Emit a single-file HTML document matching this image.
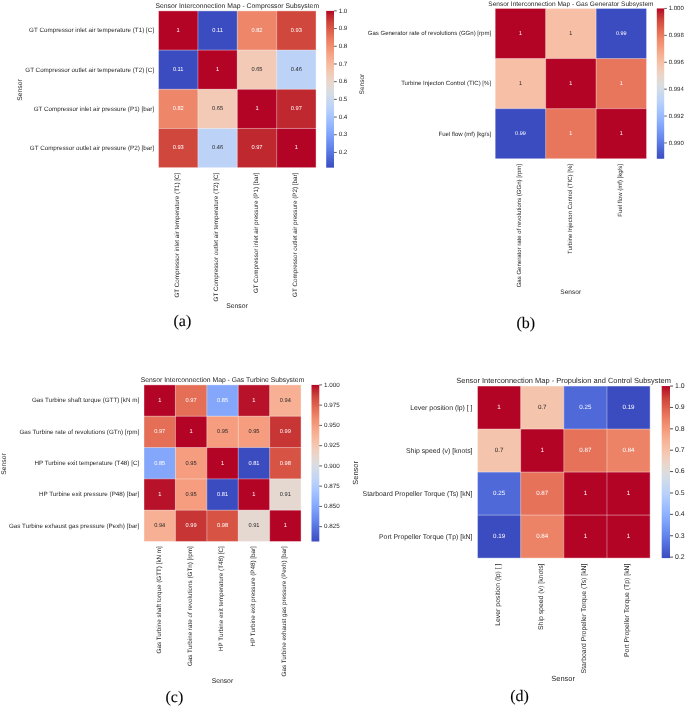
<!DOCTYPE html>
<html><head><meta charset="utf-8"><title>Sensor Interconnection Maps</title>
<style>
html,body{margin:0;padding:0;background:#fff;}
body{width:685px;height:706px;overflow:hidden;font-family:"Liberation Sans",sans-serif;}
svg{display:block;}
text{white-space:pre;text-rendering:geometricPrecision;}
</style></head><body>
<svg width="685" height="706" viewBox="0 0 685 706">
<defs><linearGradient id="ga" x1="0" y1="0" x2="0" y2="1"><stop offset="0.0000" stop-color="#b40426"/><stop offset="0.0250" stop-color="#bd1f2d"/><stop offset="0.0500" stop-color="#c53334"/><stop offset="0.0750" stop-color="#cf453c"/><stop offset="0.1000" stop-color="#d65244"/><stop offset="0.1250" stop-color="#dd5f4b"/><stop offset="0.1500" stop-color="#e36c55"/><stop offset="0.1750" stop-color="#e9785d"/><stop offset="0.2000" stop-color="#ee8468"/><stop offset="0.2250" stop-color="#f18f71"/><stop offset="0.2500" stop-color="#f4987a"/><stop offset="0.2750" stop-color="#f6a385"/><stop offset="0.3000" stop-color="#f7ac8e"/><stop offset="0.3250" stop-color="#f7b599"/><stop offset="0.3500" stop-color="#f6bda2"/><stop offset="0.3750" stop-color="#f5c4ac"/><stop offset="0.4000" stop-color="#f2cbb7"/><stop offset="0.4250" stop-color="#eed0c0"/><stop offset="0.4500" stop-color="#e9d5cb"/><stop offset="0.4750" stop-color="#e3d9d3"/><stop offset="0.5000" stop-color="#dddcdc"/><stop offset="0.5250" stop-color="#d6dce4"/><stop offset="0.5500" stop-color="#cfdaea"/><stop offset="0.5750" stop-color="#c7d7f0"/><stop offset="0.6000" stop-color="#c0d4f5"/><stop offset="0.6250" stop-color="#b9d0f9"/><stop offset="0.6500" stop-color="#afcafc"/><stop offset="0.6750" stop-color="#a7c5fe"/><stop offset="0.7000" stop-color="#9ebeff"/><stop offset="0.7250" stop-color="#96b7ff"/><stop offset="0.7500" stop-color="#8db0fe"/><stop offset="0.7750" stop-color="#84a7fc"/><stop offset="0.8000" stop-color="#7b9ff9"/><stop offset="0.8250" stop-color="#7295f4"/><stop offset="0.8500" stop-color="#6a8bef"/><stop offset="0.8750" stop-color="#6282ea"/><stop offset="0.9000" stop-color="#5977e3"/><stop offset="0.9250" stop-color="#516ddb"/><stop offset="0.9500" stop-color="#4961d2"/><stop offset="0.9750" stop-color="#4257c9"/><stop offset="1.0000" stop-color="#3b4cc0"/></linearGradient><linearGradient id="gb" x1="0" y1="0" x2="0" y2="1"><stop offset="0.0000" stop-color="#b40426"/><stop offset="0.0250" stop-color="#bd1f2d"/><stop offset="0.0500" stop-color="#c53334"/><stop offset="0.0750" stop-color="#cf453c"/><stop offset="0.1000" stop-color="#d65244"/><stop offset="0.1250" stop-color="#dd5f4b"/><stop offset="0.1500" stop-color="#e36c55"/><stop offset="0.1750" stop-color="#e9785d"/><stop offset="0.2000" stop-color="#ee8468"/><stop offset="0.2250" stop-color="#f18f71"/><stop offset="0.2500" stop-color="#f4987a"/><stop offset="0.2750" stop-color="#f6a385"/><stop offset="0.3000" stop-color="#f7ac8e"/><stop offset="0.3250" stop-color="#f7b599"/><stop offset="0.3500" stop-color="#f6bda2"/><stop offset="0.3750" stop-color="#f5c4ac"/><stop offset="0.4000" stop-color="#f2cbb7"/><stop offset="0.4250" stop-color="#eed0c0"/><stop offset="0.4500" stop-color="#e9d5cb"/><stop offset="0.4750" stop-color="#e3d9d3"/><stop offset="0.5000" stop-color="#dddcdc"/><stop offset="0.5250" stop-color="#d6dce4"/><stop offset="0.5500" stop-color="#cfdaea"/><stop offset="0.5750" stop-color="#c7d7f0"/><stop offset="0.6000" stop-color="#c0d4f5"/><stop offset="0.6250" stop-color="#b9d0f9"/><stop offset="0.6500" stop-color="#afcafc"/><stop offset="0.6750" stop-color="#a7c5fe"/><stop offset="0.7000" stop-color="#9ebeff"/><stop offset="0.7250" stop-color="#96b7ff"/><stop offset="0.7500" stop-color="#8db0fe"/><stop offset="0.7750" stop-color="#84a7fc"/><stop offset="0.8000" stop-color="#7b9ff9"/><stop offset="0.8250" stop-color="#7295f4"/><stop offset="0.8500" stop-color="#6a8bef"/><stop offset="0.8750" stop-color="#6282ea"/><stop offset="0.9000" stop-color="#5977e3"/><stop offset="0.9250" stop-color="#516ddb"/><stop offset="0.9500" stop-color="#4961d2"/><stop offset="0.9750" stop-color="#4257c9"/><stop offset="1.0000" stop-color="#3b4cc0"/></linearGradient><linearGradient id="gc" x1="0" y1="0" x2="0" y2="1"><stop offset="0.0000" stop-color="#b40426"/><stop offset="0.0250" stop-color="#bd1f2d"/><stop offset="0.0500" stop-color="#c53334"/><stop offset="0.0750" stop-color="#cf453c"/><stop offset="0.1000" stop-color="#d65244"/><stop offset="0.1250" stop-color="#dd5f4b"/><stop offset="0.1500" stop-color="#e36c55"/><stop offset="0.1750" stop-color="#e9785d"/><stop offset="0.2000" stop-color="#ee8468"/><stop offset="0.2250" stop-color="#f18f71"/><stop offset="0.2500" stop-color="#f4987a"/><stop offset="0.2750" stop-color="#f6a385"/><stop offset="0.3000" stop-color="#f7ac8e"/><stop offset="0.3250" stop-color="#f7b599"/><stop offset="0.3500" stop-color="#f6bda2"/><stop offset="0.3750" stop-color="#f5c4ac"/><stop offset="0.4000" stop-color="#f2cbb7"/><stop offset="0.4250" stop-color="#eed0c0"/><stop offset="0.4500" stop-color="#e9d5cb"/><stop offset="0.4750" stop-color="#e3d9d3"/><stop offset="0.5000" stop-color="#dddcdc"/><stop offset="0.5250" stop-color="#d6dce4"/><stop offset="0.5500" stop-color="#cfdaea"/><stop offset="0.5750" stop-color="#c7d7f0"/><stop offset="0.6000" stop-color="#c0d4f5"/><stop offset="0.6250" stop-color="#b9d0f9"/><stop offset="0.6500" stop-color="#afcafc"/><stop offset="0.6750" stop-color="#a7c5fe"/><stop offset="0.7000" stop-color="#9ebeff"/><stop offset="0.7250" stop-color="#96b7ff"/><stop offset="0.7500" stop-color="#8db0fe"/><stop offset="0.7750" stop-color="#84a7fc"/><stop offset="0.8000" stop-color="#7b9ff9"/><stop offset="0.8250" stop-color="#7295f4"/><stop offset="0.8500" stop-color="#6a8bef"/><stop offset="0.8750" stop-color="#6282ea"/><stop offset="0.9000" stop-color="#5977e3"/><stop offset="0.9250" stop-color="#516ddb"/><stop offset="0.9500" stop-color="#4961d2"/><stop offset="0.9750" stop-color="#4257c9"/><stop offset="1.0000" stop-color="#3b4cc0"/></linearGradient><linearGradient id="gd" x1="0" y1="0" x2="0" y2="1"><stop offset="0.0000" stop-color="#b40426"/><stop offset="0.0250" stop-color="#bd1f2d"/><stop offset="0.0500" stop-color="#c53334"/><stop offset="0.0750" stop-color="#cf453c"/><stop offset="0.1000" stop-color="#d65244"/><stop offset="0.1250" stop-color="#dd5f4b"/><stop offset="0.1500" stop-color="#e36c55"/><stop offset="0.1750" stop-color="#e9785d"/><stop offset="0.2000" stop-color="#ee8468"/><stop offset="0.2250" stop-color="#f18f71"/><stop offset="0.2500" stop-color="#f4987a"/><stop offset="0.2750" stop-color="#f6a385"/><stop offset="0.3000" stop-color="#f7ac8e"/><stop offset="0.3250" stop-color="#f7b599"/><stop offset="0.3500" stop-color="#f6bda2"/><stop offset="0.3750" stop-color="#f5c4ac"/><stop offset="0.4000" stop-color="#f2cbb7"/><stop offset="0.4250" stop-color="#eed0c0"/><stop offset="0.4500" stop-color="#e9d5cb"/><stop offset="0.4750" stop-color="#e3d9d3"/><stop offset="0.5000" stop-color="#dddcdc"/><stop offset="0.5250" stop-color="#d6dce4"/><stop offset="0.5500" stop-color="#cfdaea"/><stop offset="0.5750" stop-color="#c7d7f0"/><stop offset="0.6000" stop-color="#c0d4f5"/><stop offset="0.6250" stop-color="#b9d0f9"/><stop offset="0.6500" stop-color="#afcafc"/><stop offset="0.6750" stop-color="#a7c5fe"/><stop offset="0.7000" stop-color="#9ebeff"/><stop offset="0.7250" stop-color="#96b7ff"/><stop offset="0.7500" stop-color="#8db0fe"/><stop offset="0.7750" stop-color="#84a7fc"/><stop offset="0.8000" stop-color="#7b9ff9"/><stop offset="0.8250" stop-color="#7295f4"/><stop offset="0.8500" stop-color="#6a8bef"/><stop offset="0.8750" stop-color="#6282ea"/><stop offset="0.9000" stop-color="#5977e3"/><stop offset="0.9250" stop-color="#516ddb"/><stop offset="0.9500" stop-color="#4961d2"/><stop offset="0.9750" stop-color="#4257c9"/><stop offset="1.0000" stop-color="#3b4cc0"/></linearGradient><filter id="bl" x="-5%" y="-5%" width="110%" height="110%" color-interpolation-filters="sRGB"><feGaussianBlur stdDeviation="0.35"/></filter></defs>
<rect width="685" height="706" fill="#ffffff"/>
<g filter="url(#bl)">
<rect x="158.50" y="10.90" width="39.69" height="39.49" fill="#b40426"/>
<rect x="197.89" y="10.90" width="39.69" height="39.49" fill="#3b4cc0"/>
<rect x="237.28" y="10.90" width="39.69" height="39.49" fill="#ee8669"/>
<rect x="276.66" y="10.90" width="39.39" height="39.49" fill="#d0473d"/>
<rect x="158.50" y="50.09" width="39.69" height="39.49" fill="#3b4cc0"/>
<rect x="197.89" y="50.09" width="39.69" height="39.49" fill="#b40426"/>
<rect x="237.28" y="50.09" width="39.69" height="39.49" fill="#f2cab5"/>
<rect x="276.66" y="50.09" width="39.39" height="39.49" fill="#bcd2f7"/>
<rect x="158.50" y="89.28" width="39.69" height="39.49" fill="#ee8669"/>
<rect x="197.89" y="89.28" width="39.69" height="39.49" fill="#f2cab5"/>
<rect x="237.28" y="89.28" width="39.69" height="39.49" fill="#b40426"/>
<rect x="276.66" y="89.28" width="39.39" height="39.49" fill="#c0282f"/>
<rect x="158.50" y="128.46" width="39.69" height="39.19" fill="#d0473d"/>
<rect x="197.89" y="128.46" width="39.69" height="39.19" fill="#bcd2f7"/>
<rect x="237.28" y="128.46" width="39.69" height="39.19" fill="#c0282f"/>
<rect x="276.66" y="128.46" width="39.39" height="39.19" fill="#b40426"/>
<line x1="158.50" y1="10.90" x2="158.50" y2="167.65" stroke="#fff" stroke-width="0.5" stroke-opacity="0.75"/>
<line x1="158.50" y1="10.90" x2="316.05" y2="10.90" stroke="#fff" stroke-width="0.5" stroke-opacity="0.75"/>
<line x1="197.89" y1="10.90" x2="197.89" y2="167.65" stroke="#fff" stroke-width="0.5" stroke-opacity="0.75"/>
<line x1="158.50" y1="50.09" x2="316.05" y2="50.09" stroke="#fff" stroke-width="0.5" stroke-opacity="0.75"/>
<line x1="237.28" y1="10.90" x2="237.28" y2="167.65" stroke="#fff" stroke-width="0.5" stroke-opacity="0.75"/>
<line x1="158.50" y1="89.28" x2="316.05" y2="89.28" stroke="#fff" stroke-width="0.5" stroke-opacity="0.75"/>
<line x1="276.66" y1="10.90" x2="276.66" y2="167.65" stroke="#fff" stroke-width="0.5" stroke-opacity="0.75"/>
<line x1="158.50" y1="128.46" x2="316.05" y2="128.46" stroke="#fff" stroke-width="0.5" stroke-opacity="0.75"/>
<line x1="316.05" y1="10.90" x2="316.05" y2="167.65" stroke="#fff" stroke-width="0.5" stroke-opacity="0.75"/>
<line x1="158.50" y1="167.65" x2="316.05" y2="167.65" stroke="#fff" stroke-width="0.5" stroke-opacity="0.75"/>
<text x="178.19" y="31.86" font-size="5.67" text-anchor="middle" fill="#ffffff" font-family="Liberation Sans">1</text>
<text x="217.58" y="31.86" font-size="5.67" text-anchor="middle" fill="#ffffff" font-family="Liberation Sans">0.11</text>
<text x="256.97" y="31.86" font-size="5.67" text-anchor="middle" fill="#ffffff" font-family="Liberation Sans">0.82</text>
<text x="296.36" y="31.86" font-size="5.67" text-anchor="middle" fill="#ffffff" font-family="Liberation Sans">0.93</text>
<text x="178.19" y="71.04" font-size="5.67" text-anchor="middle" fill="#ffffff" font-family="Liberation Sans">0.11</text>
<text x="217.58" y="71.04" font-size="5.67" text-anchor="middle" fill="#ffffff" font-family="Liberation Sans">1</text>
<text x="256.97" y="71.04" font-size="5.67" text-anchor="middle" fill="#262626" font-family="Liberation Sans">0.65</text>
<text x="296.36" y="71.04" font-size="5.67" text-anchor="middle" fill="#262626" font-family="Liberation Sans">0.46</text>
<text x="178.19" y="110.23" font-size="5.67" text-anchor="middle" fill="#ffffff" font-family="Liberation Sans">0.82</text>
<text x="217.58" y="110.23" font-size="5.67" text-anchor="middle" fill="#262626" font-family="Liberation Sans">0.65</text>
<text x="256.97" y="110.23" font-size="5.67" text-anchor="middle" fill="#ffffff" font-family="Liberation Sans">1</text>
<text x="296.36" y="110.23" font-size="5.67" text-anchor="middle" fill="#ffffff" font-family="Liberation Sans">0.97</text>
<text x="178.19" y="149.42" font-size="5.67" text-anchor="middle" fill="#ffffff" font-family="Liberation Sans">0.93</text>
<text x="217.58" y="149.42" font-size="5.67" text-anchor="middle" fill="#262626" font-family="Liberation Sans">0.46</text>
<text x="256.97" y="149.42" font-size="5.67" text-anchor="middle" fill="#ffffff" font-family="Liberation Sans">0.97</text>
<text x="296.36" y="149.42" font-size="5.67" text-anchor="middle" fill="#ffffff" font-family="Liberation Sans">1</text>
<text x="154.00" y="32.38" font-size="6.28" text-anchor="end" fill="#262626" font-family="Liberation Sans">GT Compressor inlet air temperature (T1) [C]</text>
<text x="154.00" y="71.56" font-size="6.28" text-anchor="end" fill="#262626" font-family="Liberation Sans">GT Compressor outlet air temperature (T2) [C]</text>
<text x="154.00" y="110.75" font-size="6.28" text-anchor="end" fill="#262626" font-family="Liberation Sans">GT Compressor inlet air pressure (P1) [bar]</text>
<text x="154.00" y="149.94" font-size="6.28" text-anchor="end" fill="#262626" font-family="Liberation Sans">GT Compressor outlet air pressure (P2) [bar]</text>
<text x="0" y="0" transform="translate(179.04,172.70) rotate(-90)" font-size="6.28" text-anchor="end" fill="#262626" font-family="Liberation Sans">GT Compressor inlet air temperature (T1) [C]</text>
<text x="0" y="0" transform="translate(218.43,172.70) rotate(-90)" font-size="6.28" text-anchor="end" fill="#262626" font-family="Liberation Sans">GT Compressor outlet air temperature (T2) [C]</text>
<text x="0" y="0" transform="translate(257.82,172.70) rotate(-90)" font-size="6.28" text-anchor="end" fill="#262626" font-family="Liberation Sans">GT Compressor inlet air pressure (P1) [bar]</text>
<text x="0" y="0" transform="translate(297.21,172.70) rotate(-90)" font-size="6.28" text-anchor="end" fill="#262626" font-family="Liberation Sans">GT Compressor outlet air pressure (P2) [bar]</text>
<text x="237.28" y="7.80" font-size="6.81" text-anchor="middle" fill="#262626" font-family="Liberation Sans">Sensor Interconnection Map - Compressor Subsystem</text>
<text x="0" y="0" transform="translate(21.80,90.00) rotate(-90)" font-size="6.81" text-anchor="middle" fill="#262626" font-family="Liberation Sans">Sensor</text>
<text x="237.00" y="308.10" font-size="6.81" text-anchor="middle" fill="#262626" font-family="Liberation Sans">Sensor</text>
<rect x="326.20" y="10.90" width="7.80" height="156.75" fill="url(#ga)"/>
<line x1="334.00" y1="152.43" x2="336.78" y2="152.43" stroke="#262626" stroke-width="0.74"/>
<text x="338.65" y="154.13" font-size="6.28" text-anchor="start" fill="#262626" font-family="Liberation Sans">0.2</text>
<line x1="334.00" y1="134.74" x2="336.78" y2="134.74" stroke="#262626" stroke-width="0.74"/>
<text x="338.65" y="136.44" font-size="6.28" text-anchor="start" fill="#262626" font-family="Liberation Sans">0.3</text>
<line x1="334.00" y1="117.05" x2="336.78" y2="117.05" stroke="#262626" stroke-width="0.74"/>
<text x="338.65" y="118.75" font-size="6.28" text-anchor="start" fill="#262626" font-family="Liberation Sans">0.4</text>
<line x1="334.00" y1="99.36" x2="336.78" y2="99.36" stroke="#262626" stroke-width="0.74"/>
<text x="338.65" y="101.05" font-size="6.28" text-anchor="start" fill="#262626" font-family="Liberation Sans">0.5</text>
<line x1="334.00" y1="81.67" x2="336.78" y2="81.67" stroke="#262626" stroke-width="0.74"/>
<text x="338.65" y="83.36" font-size="6.28" text-anchor="start" fill="#262626" font-family="Liberation Sans">0.6</text>
<line x1="334.00" y1="63.98" x2="336.78" y2="63.98" stroke="#262626" stroke-width="0.74"/>
<text x="338.65" y="65.67" font-size="6.28" text-anchor="start" fill="#262626" font-family="Liberation Sans">0.7</text>
<line x1="334.00" y1="46.28" x2="336.78" y2="46.28" stroke="#262626" stroke-width="0.74"/>
<text x="338.65" y="47.98" font-size="6.28" text-anchor="start" fill="#262626" font-family="Liberation Sans">0.8</text>
<line x1="334.00" y1="28.59" x2="336.78" y2="28.59" stroke="#262626" stroke-width="0.74"/>
<text x="338.65" y="30.29" font-size="6.28" text-anchor="start" fill="#262626" font-family="Liberation Sans">0.9</text>
<line x1="334.00" y1="10.90" x2="336.78" y2="10.90" stroke="#262626" stroke-width="0.74"/>
<text x="338.65" y="12.59" font-size="6.28" text-anchor="start" fill="#262626" font-family="Liberation Sans">1.0</text>
<text x="173.50" y="326.40" font-size="16.00" text-anchor="start" fill="#000" font-family="Liberation Serif" stroke="#000" stroke-width="0.1">(a)</text>
<rect x="495.20" y="8.45" width="50.75" height="50.40" fill="#b40426"/>
<rect x="545.65" y="8.45" width="50.75" height="50.40" fill="#f6bfa6"/>
<rect x="596.10" y="8.45" width="50.45" height="50.40" fill="#3b4cc0"/>
<rect x="495.20" y="58.55" width="50.75" height="50.40" fill="#f6bfa6"/>
<rect x="545.65" y="58.55" width="50.75" height="50.40" fill="#b40426"/>
<rect x="596.10" y="58.55" width="50.45" height="50.40" fill="#e8765c"/>
<rect x="495.20" y="108.65" width="50.75" height="50.10" fill="#3b4cc0"/>
<rect x="545.65" y="108.65" width="50.75" height="50.10" fill="#e8765c"/>
<rect x="596.10" y="108.65" width="50.45" height="50.10" fill="#b40426"/>
<line x1="495.20" y1="8.45" x2="495.20" y2="158.75" stroke="#fff" stroke-width="0.5" stroke-opacity="0.75"/>
<line x1="495.20" y1="8.45" x2="646.55" y2="8.45" stroke="#fff" stroke-width="0.5" stroke-opacity="0.75"/>
<line x1="545.65" y1="8.45" x2="545.65" y2="158.75" stroke="#fff" stroke-width="0.5" stroke-opacity="0.75"/>
<line x1="495.20" y1="58.55" x2="646.55" y2="58.55" stroke="#fff" stroke-width="0.5" stroke-opacity="0.75"/>
<line x1="596.10" y1="8.45" x2="596.10" y2="158.75" stroke="#fff" stroke-width="0.5" stroke-opacity="0.75"/>
<line x1="495.20" y1="108.65" x2="646.55" y2="108.65" stroke="#fff" stroke-width="0.5" stroke-opacity="0.75"/>
<line x1="646.55" y1="8.45" x2="646.55" y2="158.75" stroke="#fff" stroke-width="0.5" stroke-opacity="0.75"/>
<line x1="495.20" y1="158.75" x2="646.55" y2="158.75" stroke="#fff" stroke-width="0.5" stroke-opacity="0.75"/>
<text x="520.42" y="34.81" font-size="5.46" text-anchor="middle" fill="#ffffff" font-family="Liberation Sans">1</text>
<text x="570.88" y="34.81" font-size="5.46" text-anchor="middle" fill="#262626" font-family="Liberation Sans">1</text>
<text x="621.32" y="34.81" font-size="5.46" text-anchor="middle" fill="#ffffff" font-family="Liberation Sans">0.99</text>
<text x="520.42" y="84.91" font-size="5.46" text-anchor="middle" fill="#262626" font-family="Liberation Sans">1</text>
<text x="570.88" y="84.91" font-size="5.46" text-anchor="middle" fill="#ffffff" font-family="Liberation Sans">1</text>
<text x="621.32" y="84.91" font-size="5.46" text-anchor="middle" fill="#ffffff" font-family="Liberation Sans">1</text>
<text x="520.42" y="135.01" font-size="5.46" text-anchor="middle" fill="#ffffff" font-family="Liberation Sans">0.99</text>
<text x="570.88" y="135.01" font-size="5.46" text-anchor="middle" fill="#ffffff" font-family="Liberation Sans">1</text>
<text x="621.32" y="135.01" font-size="5.46" text-anchor="middle" fill="#ffffff" font-family="Liberation Sans">1</text>
<text x="491.10" y="35.31" font-size="6.04" text-anchor="end" fill="#262626" font-family="Liberation Sans">Gas Generator rate of revolutions (GGn) [rpm]</text>
<text x="491.10" y="85.41" font-size="6.04" text-anchor="end" fill="#262626" font-family="Liberation Sans">Turbine Injecton Control (TIC) [%]</text>
<text x="491.10" y="135.51" font-size="6.04" text-anchor="end" fill="#262626" font-family="Liberation Sans">Fuel flow (mf) [kg/s]</text>
<text x="0" y="0" transform="translate(521.27,164.00) rotate(-90)" font-size="6.04" text-anchor="end" fill="#262626" font-family="Liberation Sans">Gas Generator rate of revolutions (GGn) [rpm]</text>
<text x="0" y="0" transform="translate(571.73,164.00) rotate(-90)" font-size="6.04" text-anchor="end" fill="#262626" font-family="Liberation Sans">Turbine Injecton Control (TIC) [%]</text>
<text x="0" y="0" transform="translate(622.17,164.00) rotate(-90)" font-size="6.04" text-anchor="end" fill="#262626" font-family="Liberation Sans">Fuel flow (mf) [kg/s]</text>
<text x="570.88" y="5.50" font-size="6.55" text-anchor="middle" fill="#262626" font-family="Liberation Sans">Sensor Interconnection Map - Gas Generator Subsystem</text>
<text x="0" y="0" transform="translate(364.40,84.10) rotate(-90)" font-size="6.55" text-anchor="middle" fill="#262626" font-family="Liberation Sans">Sensor</text>
<text x="570.70" y="293.60" font-size="6.55" text-anchor="middle" fill="#262626" font-family="Liberation Sans">Sensor</text>
<rect x="656.80" y="8.45" width="7.40" height="150.30" fill="url(#gb)"/>
<line x1="664.20" y1="142.95" x2="666.88" y2="142.95" stroke="#262626" stroke-width="0.71"/>
<text x="668.68" y="144.58" font-size="6.04" text-anchor="start" fill="#262626" font-family="Liberation Sans">0.990</text>
<line x1="664.20" y1="116.05" x2="666.88" y2="116.05" stroke="#262626" stroke-width="0.71"/>
<text x="668.68" y="117.68" font-size="6.04" text-anchor="start" fill="#262626" font-family="Liberation Sans">0.992</text>
<line x1="664.20" y1="89.15" x2="666.88" y2="89.15" stroke="#262626" stroke-width="0.71"/>
<text x="668.68" y="90.78" font-size="6.04" text-anchor="start" fill="#262626" font-family="Liberation Sans">0.994</text>
<line x1="664.20" y1="62.25" x2="666.88" y2="62.25" stroke="#262626" stroke-width="0.71"/>
<text x="668.68" y="63.88" font-size="6.04" text-anchor="start" fill="#262626" font-family="Liberation Sans">0.996</text>
<line x1="664.20" y1="35.35" x2="666.88" y2="35.35" stroke="#262626" stroke-width="0.71"/>
<text x="668.68" y="36.98" font-size="6.04" text-anchor="start" fill="#262626" font-family="Liberation Sans">0.998</text>
<line x1="664.20" y1="8.45" x2="666.88" y2="8.45" stroke="#262626" stroke-width="0.71"/>
<text x="668.68" y="10.08" font-size="6.04" text-anchor="start" fill="#262626" font-family="Liberation Sans">1.000</text>
<text x="516.40" y="327.50" font-size="16.00" text-anchor="start" fill="#000" font-family="Liberation Serif" stroke="#000" stroke-width="0.1">(b)</text>
<rect x="144.00" y="384.90" width="31.71" height="31.62" fill="#b40426"/>
<rect x="175.41" y="384.90" width="31.71" height="31.62" fill="#e46e56"/>
<rect x="206.82" y="384.90" width="31.71" height="31.62" fill="#84a7fc"/>
<rect x="238.23" y="384.90" width="31.71" height="31.62" fill="#b8122a"/>
<rect x="269.64" y="384.90" width="31.41" height="31.62" fill="#f7b093"/>
<rect x="144.00" y="416.22" width="31.71" height="31.62" fill="#e46e56"/>
<rect x="175.41" y="416.22" width="31.71" height="31.62" fill="#b40426"/>
<rect x="206.82" y="416.22" width="31.71" height="31.62" fill="#f59d7e"/>
<rect x="238.23" y="416.22" width="31.71" height="31.62" fill="#f59d7e"/>
<rect x="269.64" y="416.22" width="31.41" height="31.62" fill="#c73635"/>
<rect x="144.00" y="447.54" width="31.71" height="31.62" fill="#84a7fc"/>
<rect x="175.41" y="447.54" width="31.71" height="31.62" fill="#f59d7e"/>
<rect x="206.82" y="447.54" width="31.71" height="31.62" fill="#b40426"/>
<rect x="238.23" y="447.54" width="31.71" height="31.62" fill="#3b4cc0"/>
<rect x="269.64" y="447.54" width="31.41" height="31.62" fill="#d75445"/>
<rect x="144.00" y="478.86" width="31.71" height="31.62" fill="#b8122a"/>
<rect x="175.41" y="478.86" width="31.71" height="31.62" fill="#f59d7e"/>
<rect x="206.82" y="478.86" width="31.71" height="31.62" fill="#3b4cc0"/>
<rect x="238.23" y="478.86" width="31.71" height="31.62" fill="#b40426"/>
<rect x="269.64" y="478.86" width="31.41" height="31.62" fill="#e5d8d1"/>
<rect x="144.00" y="510.18" width="31.71" height="31.32" fill="#f7b093"/>
<rect x="175.41" y="510.18" width="31.71" height="31.32" fill="#c73635"/>
<rect x="206.82" y="510.18" width="31.71" height="31.32" fill="#d75445"/>
<rect x="238.23" y="510.18" width="31.71" height="31.32" fill="#e5d8d1"/>
<rect x="269.64" y="510.18" width="31.41" height="31.32" fill="#b40426"/>
<line x1="144.00" y1="384.90" x2="144.00" y2="541.50" stroke="#fff" stroke-width="0.5" stroke-opacity="0.75"/>
<line x1="144.00" y1="384.90" x2="301.05" y2="384.90" stroke="#fff" stroke-width="0.5" stroke-opacity="0.75"/>
<line x1="175.41" y1="384.90" x2="175.41" y2="541.50" stroke="#fff" stroke-width="0.5" stroke-opacity="0.75"/>
<line x1="144.00" y1="416.22" x2="301.05" y2="416.22" stroke="#fff" stroke-width="0.5" stroke-opacity="0.75"/>
<line x1="206.82" y1="384.90" x2="206.82" y2="541.50" stroke="#fff" stroke-width="0.5" stroke-opacity="0.75"/>
<line x1="144.00" y1="447.54" x2="301.05" y2="447.54" stroke="#fff" stroke-width="0.5" stroke-opacity="0.75"/>
<line x1="238.23" y1="384.90" x2="238.23" y2="541.50" stroke="#fff" stroke-width="0.5" stroke-opacity="0.75"/>
<line x1="144.00" y1="478.86" x2="301.05" y2="478.86" stroke="#fff" stroke-width="0.5" stroke-opacity="0.75"/>
<line x1="269.64" y1="384.90" x2="269.64" y2="541.50" stroke="#fff" stroke-width="0.5" stroke-opacity="0.75"/>
<line x1="144.00" y1="510.18" x2="301.05" y2="510.18" stroke="#fff" stroke-width="0.5" stroke-opacity="0.75"/>
<line x1="301.05" y1="384.90" x2="301.05" y2="541.50" stroke="#fff" stroke-width="0.5" stroke-opacity="0.75"/>
<line x1="144.00" y1="541.50" x2="301.05" y2="541.50" stroke="#fff" stroke-width="0.5" stroke-opacity="0.75"/>
<text x="159.71" y="401.92" font-size="5.67" text-anchor="middle" fill="#ffffff" font-family="Liberation Sans">1</text>
<text x="191.12" y="401.92" font-size="5.67" text-anchor="middle" fill="#ffffff" font-family="Liberation Sans">0.97</text>
<text x="222.53" y="401.92" font-size="5.67" text-anchor="middle" fill="#ffffff" font-family="Liberation Sans">0.85</text>
<text x="253.94" y="401.92" font-size="5.67" text-anchor="middle" fill="#ffffff" font-family="Liberation Sans">1</text>
<text x="285.35" y="401.92" font-size="5.67" text-anchor="middle" fill="#262626" font-family="Liberation Sans">0.94</text>
<text x="159.71" y="433.24" font-size="5.67" text-anchor="middle" fill="#ffffff" font-family="Liberation Sans">0.97</text>
<text x="191.12" y="433.24" font-size="5.67" text-anchor="middle" fill="#ffffff" font-family="Liberation Sans">1</text>
<text x="222.53" y="433.24" font-size="5.67" text-anchor="middle" fill="#262626" font-family="Liberation Sans">0.95</text>
<text x="253.94" y="433.24" font-size="5.67" text-anchor="middle" fill="#262626" font-family="Liberation Sans">0.95</text>
<text x="285.35" y="433.24" font-size="5.67" text-anchor="middle" fill="#ffffff" font-family="Liberation Sans">0.99</text>
<text x="159.71" y="464.56" font-size="5.67" text-anchor="middle" fill="#ffffff" font-family="Liberation Sans">0.85</text>
<text x="191.12" y="464.56" font-size="5.67" text-anchor="middle" fill="#262626" font-family="Liberation Sans">0.95</text>
<text x="222.53" y="464.56" font-size="5.67" text-anchor="middle" fill="#ffffff" font-family="Liberation Sans">1</text>
<text x="253.94" y="464.56" font-size="5.67" text-anchor="middle" fill="#ffffff" font-family="Liberation Sans">0.81</text>
<text x="285.35" y="464.56" font-size="5.67" text-anchor="middle" fill="#ffffff" font-family="Liberation Sans">0.98</text>
<text x="159.71" y="495.88" font-size="5.67" text-anchor="middle" fill="#ffffff" font-family="Liberation Sans">1</text>
<text x="191.12" y="495.88" font-size="5.67" text-anchor="middle" fill="#262626" font-family="Liberation Sans">0.95</text>
<text x="222.53" y="495.88" font-size="5.67" text-anchor="middle" fill="#ffffff" font-family="Liberation Sans">0.81</text>
<text x="253.94" y="495.88" font-size="5.67" text-anchor="middle" fill="#ffffff" font-family="Liberation Sans">1</text>
<text x="285.35" y="495.88" font-size="5.67" text-anchor="middle" fill="#262626" font-family="Liberation Sans">0.91</text>
<text x="159.71" y="527.20" font-size="5.67" text-anchor="middle" fill="#262626" font-family="Liberation Sans">0.94</text>
<text x="191.12" y="527.20" font-size="5.67" text-anchor="middle" fill="#ffffff" font-family="Liberation Sans">0.99</text>
<text x="222.53" y="527.20" font-size="5.67" text-anchor="middle" fill="#ffffff" font-family="Liberation Sans">0.98</text>
<text x="253.94" y="527.20" font-size="5.67" text-anchor="middle" fill="#262626" font-family="Liberation Sans">0.91</text>
<text x="285.35" y="527.20" font-size="5.67" text-anchor="middle" fill="#ffffff" font-family="Liberation Sans">1</text>
<text x="139.20" y="402.44" font-size="6.28" text-anchor="end" fill="#262626" font-family="Liberation Sans">Gas Turbine shaft torque (GTT) [kN m]</text>
<text x="139.20" y="433.76" font-size="6.28" text-anchor="end" fill="#262626" font-family="Liberation Sans">Gas Turbine rate of revolutions (GTn) [rpm]</text>
<text x="139.20" y="465.08" font-size="6.28" text-anchor="end" fill="#262626" font-family="Liberation Sans">HP Turbine exit temperature (T48) [C]</text>
<text x="139.20" y="496.40" font-size="6.28" text-anchor="end" fill="#262626" font-family="Liberation Sans">HP Turbine exit pressure (P48) [bar]</text>
<text x="139.20" y="527.72" font-size="6.28" text-anchor="end" fill="#262626" font-family="Liberation Sans">Gas Turbine exhaust gas pressure (Pexh) [bar]</text>
<text x="0" y="0" transform="translate(160.56,546.20) rotate(-90)" font-size="6.28" text-anchor="end" fill="#262626" font-family="Liberation Sans">Gas Turbine shaft torque (GTT) [kN m]</text>
<text x="0" y="0" transform="translate(191.97,546.20) rotate(-90)" font-size="6.28" text-anchor="end" fill="#262626" font-family="Liberation Sans">Gas Turbine rate of revolutions (GTn) [rpm]</text>
<text x="0" y="0" transform="translate(223.38,546.20) rotate(-90)" font-size="6.28" text-anchor="end" fill="#262626" font-family="Liberation Sans">HP Turbine exit temperature (T48) [C]</text>
<text x="0" y="0" transform="translate(254.78,546.20) rotate(-90)" font-size="6.28" text-anchor="end" fill="#262626" font-family="Liberation Sans">HP Turbine exit pressure (P48) [bar]</text>
<text x="0" y="0" transform="translate(286.20,546.20) rotate(-90)" font-size="6.28" text-anchor="end" fill="#262626" font-family="Liberation Sans">Gas Turbine exhaust gas pressure (Pexh) [bar]</text>
<text x="222.53" y="381.90" font-size="6.81" text-anchor="middle" fill="#262626" font-family="Liberation Sans">Sensor Interconnection Map - Gas Turbine Subsystem</text>
<text x="0" y="0" transform="translate(6.00,464.00) rotate(-90)" font-size="6.81" text-anchor="middle" fill="#262626" font-family="Liberation Sans">Sensor</text>
<text x="222.40" y="683.20" font-size="6.81" text-anchor="middle" fill="#262626" font-family="Liberation Sans">Sensor</text>
<rect x="311.50" y="384.90" width="7.80" height="156.60" fill="url(#gc)"/>
<line x1="319.30" y1="526.67" x2="322.08" y2="526.67" stroke="#262626" stroke-width="0.74"/>
<text x="323.95" y="528.37" font-size="6.28" text-anchor="start" fill="#262626" font-family="Liberation Sans">0.825</text>
<line x1="319.30" y1="506.42" x2="322.08" y2="506.42" stroke="#262626" stroke-width="0.74"/>
<text x="323.95" y="508.12" font-size="6.28" text-anchor="start" fill="#262626" font-family="Liberation Sans">0.850</text>
<line x1="319.30" y1="486.17" x2="322.08" y2="486.17" stroke="#262626" stroke-width="0.74"/>
<text x="323.95" y="487.86" font-size="6.28" text-anchor="start" fill="#262626" font-family="Liberation Sans">0.875</text>
<line x1="319.30" y1="465.91" x2="322.08" y2="465.91" stroke="#262626" stroke-width="0.74"/>
<text x="323.95" y="467.61" font-size="6.28" text-anchor="start" fill="#262626" font-family="Liberation Sans">0.900</text>
<line x1="319.30" y1="445.66" x2="322.08" y2="445.66" stroke="#262626" stroke-width="0.74"/>
<text x="323.95" y="447.36" font-size="6.28" text-anchor="start" fill="#262626" font-family="Liberation Sans">0.925</text>
<line x1="319.30" y1="425.41" x2="322.08" y2="425.41" stroke="#262626" stroke-width="0.74"/>
<text x="323.95" y="427.10" font-size="6.28" text-anchor="start" fill="#262626" font-family="Liberation Sans">0.950</text>
<line x1="319.30" y1="405.15" x2="322.08" y2="405.15" stroke="#262626" stroke-width="0.74"/>
<text x="323.95" y="406.85" font-size="6.28" text-anchor="start" fill="#262626" font-family="Liberation Sans">0.975</text>
<line x1="319.30" y1="384.90" x2="322.08" y2="384.90" stroke="#262626" stroke-width="0.74"/>
<text x="323.95" y="386.59" font-size="6.28" text-anchor="start" fill="#262626" font-family="Liberation Sans">1.000</text>
<text x="165.50" y="701.80" font-size="16.00" text-anchor="start" fill="#000" font-family="Liberation Serif" stroke="#000" stroke-width="0.1">(c)</text>
<rect x="477.50" y="386.05" width="43.45" height="43.31" fill="#b40426"/>
<rect x="520.65" y="386.05" width="43.45" height="43.31" fill="#f5c4ac"/>
<rect x="563.80" y="386.05" width="43.45" height="43.31" fill="#4f69d9"/>
<rect x="606.95" y="386.05" width="43.15" height="43.31" fill="#3b4cc0"/>
<rect x="477.50" y="429.06" width="43.45" height="43.31" fill="#f5c4ac"/>
<rect x="520.65" y="429.06" width="43.45" height="43.31" fill="#b40426"/>
<rect x="563.80" y="429.06" width="43.45" height="43.31" fill="#e67259"/>
<rect x="606.95" y="429.06" width="43.15" height="43.31" fill="#ed8366"/>
<rect x="477.50" y="472.08" width="43.45" height="43.31" fill="#4f69d9"/>
<rect x="520.65" y="472.08" width="43.45" height="43.31" fill="#e67259"/>
<rect x="563.80" y="472.08" width="43.45" height="43.31" fill="#b40426"/>
<rect x="606.95" y="472.08" width="43.15" height="43.31" fill="#b40426"/>
<rect x="477.50" y="515.09" width="43.45" height="43.01" fill="#3b4cc0"/>
<rect x="520.65" y="515.09" width="43.45" height="43.01" fill="#ed8366"/>
<rect x="563.80" y="515.09" width="43.45" height="43.01" fill="#b40426"/>
<rect x="606.95" y="515.09" width="43.15" height="43.01" fill="#b40426"/>
<line x1="477.50" y1="386.05" x2="477.50" y2="558.10" stroke="#fff" stroke-width="0.5" stroke-opacity="0.75"/>
<line x1="477.50" y1="386.05" x2="650.10" y2="386.05" stroke="#fff" stroke-width="0.5" stroke-opacity="0.75"/>
<line x1="520.65" y1="386.05" x2="520.65" y2="558.10" stroke="#fff" stroke-width="0.5" stroke-opacity="0.75"/>
<line x1="477.50" y1="429.06" x2="650.10" y2="429.06" stroke="#fff" stroke-width="0.5" stroke-opacity="0.75"/>
<line x1="563.80" y1="386.05" x2="563.80" y2="558.10" stroke="#fff" stroke-width="0.5" stroke-opacity="0.75"/>
<line x1="477.50" y1="472.08" x2="650.10" y2="472.08" stroke="#fff" stroke-width="0.5" stroke-opacity="0.75"/>
<line x1="606.95" y1="386.05" x2="606.95" y2="558.10" stroke="#fff" stroke-width="0.5" stroke-opacity="0.75"/>
<line x1="477.50" y1="515.09" x2="650.10" y2="515.09" stroke="#fff" stroke-width="0.5" stroke-opacity="0.75"/>
<line x1="650.10" y1="386.05" x2="650.10" y2="558.10" stroke="#fff" stroke-width="0.5" stroke-opacity="0.75"/>
<line x1="477.50" y1="558.10" x2="650.10" y2="558.10" stroke="#fff" stroke-width="0.5" stroke-opacity="0.75"/>
<text x="499.07" y="409.05" font-size="6.22" text-anchor="middle" fill="#ffffff" font-family="Liberation Sans">1</text>
<text x="542.23" y="409.05" font-size="6.22" text-anchor="middle" fill="#262626" font-family="Liberation Sans">0.7</text>
<text x="585.38" y="409.05" font-size="6.22" text-anchor="middle" fill="#ffffff" font-family="Liberation Sans">0.25</text>
<text x="628.52" y="409.05" font-size="6.22" text-anchor="middle" fill="#ffffff" font-family="Liberation Sans">0.19</text>
<text x="499.07" y="452.06" font-size="6.22" text-anchor="middle" fill="#262626" font-family="Liberation Sans">0.7</text>
<text x="542.23" y="452.06" font-size="6.22" text-anchor="middle" fill="#ffffff" font-family="Liberation Sans">1</text>
<text x="585.38" y="452.06" font-size="6.22" text-anchor="middle" fill="#ffffff" font-family="Liberation Sans">0.87</text>
<text x="628.52" y="452.06" font-size="6.22" text-anchor="middle" fill="#ffffff" font-family="Liberation Sans">0.84</text>
<text x="499.07" y="495.07" font-size="6.22" text-anchor="middle" fill="#ffffff" font-family="Liberation Sans">0.25</text>
<text x="542.23" y="495.07" font-size="6.22" text-anchor="middle" fill="#ffffff" font-family="Liberation Sans">0.87</text>
<text x="585.38" y="495.07" font-size="6.22" text-anchor="middle" fill="#ffffff" font-family="Liberation Sans">1</text>
<text x="628.52" y="495.07" font-size="6.22" text-anchor="middle" fill="#ffffff" font-family="Liberation Sans">1</text>
<text x="499.07" y="538.09" font-size="6.22" text-anchor="middle" fill="#ffffff" font-family="Liberation Sans">0.19</text>
<text x="542.23" y="538.09" font-size="6.22" text-anchor="middle" fill="#ffffff" font-family="Liberation Sans">0.84</text>
<text x="585.38" y="538.09" font-size="6.22" text-anchor="middle" fill="#ffffff" font-family="Liberation Sans">1</text>
<text x="628.52" y="538.09" font-size="6.22" text-anchor="middle" fill="#ffffff" font-family="Liberation Sans">1</text>
<text x="472.50" y="409.62" font-size="6.88" text-anchor="end" fill="#262626" font-family="Liberation Sans">Lever position (lp) [ ]</text>
<text x="472.50" y="452.63" font-size="6.88" text-anchor="end" fill="#262626" font-family="Liberation Sans">Ship speed (v) [knots]</text>
<text x="472.50" y="495.65" font-size="6.88" text-anchor="end" fill="#262626" font-family="Liberation Sans">Starboard Propeller Torque (Ts) [kN]</text>
<text x="472.50" y="538.66" font-size="6.88" text-anchor="end" fill="#262626" font-family="Liberation Sans">Port Propeller Torque (Tp) [kN]</text>
<text x="0" y="0" transform="translate(499.93,563.50) rotate(-90)" font-size="6.88" text-anchor="end" fill="#262626" font-family="Liberation Sans">Lever position (lp) [ ]</text>
<text x="0" y="0" transform="translate(543.08,563.50) rotate(-90)" font-size="6.88" text-anchor="end" fill="#262626" font-family="Liberation Sans">Ship speed (v) [knots]</text>
<text x="0" y="0" transform="translate(586.23,563.50) rotate(-90)" font-size="6.88" text-anchor="end" fill="#262626" font-family="Liberation Sans">Starboard Propeller Torque (Ts) [kN]</text>
<text x="0" y="0" transform="translate(629.38,563.50) rotate(-90)" font-size="6.88" text-anchor="end" fill="#262626" font-family="Liberation Sans">Port Propeller Torque (Tp) [kN]</text>
<text x="563.65" y="382.65" font-size="7.46" text-anchor="middle" fill="#262626" font-family="Liberation Sans">Sensor Interconnection Map - Propulsion and Control Subsystem</text>
<text x="0" y="0" transform="translate(358.30,472.90) rotate(-90)" font-size="7.46" text-anchor="middle" fill="#262626" font-family="Liberation Sans">Sensor</text>
<text x="563.10" y="680.60" font-size="7.46" text-anchor="middle" fill="#262626" font-family="Liberation Sans">Sensor</text>
<rect x="661.70" y="386.05" width="8.30" height="172.05" fill="url(#gd)"/>
<line x1="670.00" y1="557.14" x2="673.05" y2="557.14" stroke="#262626" stroke-width="0.81"/>
<text x="675.10" y="559.00" font-size="6.88" text-anchor="start" fill="#262626" font-family="Liberation Sans">0.2</text>
<line x1="670.00" y1="535.75" x2="673.05" y2="535.75" stroke="#262626" stroke-width="0.81"/>
<text x="675.10" y="537.61" font-size="6.88" text-anchor="start" fill="#262626" font-family="Liberation Sans">0.3</text>
<line x1="670.00" y1="514.37" x2="673.05" y2="514.37" stroke="#262626" stroke-width="0.81"/>
<text x="675.10" y="516.22" font-size="6.88" text-anchor="start" fill="#262626" font-family="Liberation Sans">0.4</text>
<line x1="670.00" y1="492.98" x2="673.05" y2="492.98" stroke="#262626" stroke-width="0.81"/>
<text x="675.10" y="494.84" font-size="6.88" text-anchor="start" fill="#262626" font-family="Liberation Sans">0.5</text>
<line x1="670.00" y1="471.59" x2="673.05" y2="471.59" stroke="#262626" stroke-width="0.81"/>
<text x="675.10" y="473.45" font-size="6.88" text-anchor="start" fill="#262626" font-family="Liberation Sans">0.6</text>
<line x1="670.00" y1="450.21" x2="673.05" y2="450.21" stroke="#262626" stroke-width="0.81"/>
<text x="675.10" y="452.07" font-size="6.88" text-anchor="start" fill="#262626" font-family="Liberation Sans">0.7</text>
<line x1="670.00" y1="428.82" x2="673.05" y2="428.82" stroke="#262626" stroke-width="0.81"/>
<text x="675.10" y="430.68" font-size="6.88" text-anchor="start" fill="#262626" font-family="Liberation Sans">0.8</text>
<line x1="670.00" y1="407.44" x2="673.05" y2="407.44" stroke="#262626" stroke-width="0.81"/>
<text x="675.10" y="409.29" font-size="6.88" text-anchor="start" fill="#262626" font-family="Liberation Sans">0.9</text>
<line x1="670.00" y1="386.05" x2="673.05" y2="386.05" stroke="#262626" stroke-width="0.81"/>
<text x="675.10" y="387.91" font-size="6.88" text-anchor="start" fill="#262626" font-family="Liberation Sans">1.0</text>
<text x="510.20" y="701.40" font-size="16.00" text-anchor="start" fill="#000" font-family="Liberation Serif" stroke="#000" stroke-width="0.1">(d)</text>
</g>
</svg>
</body></html>
